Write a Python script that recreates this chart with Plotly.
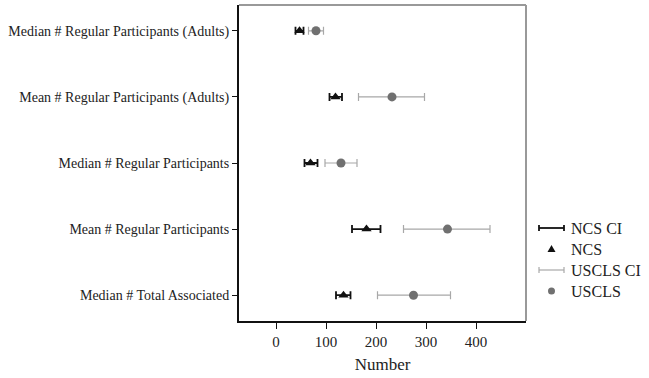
import plotly.graph_objects as go

# Measures, listed top to bottom
measures = [
    "Median # Regular Participants (Adults)",
    "Mean # Regular Participants (Adults)",
    "Median # Regular Participants",
    "Mean # Regular Participants",
    "Median # Total Associated",
]

# NCS estimates with confidence intervals
ncs_est = [47, 119, 69, 181, 135]
ncs_lo = [39, 107, 57, 152, 120]
ncs_hi = [55, 132, 83, 209, 149]

# USCLS estimates with confidence intervals
uscls_est = [80, 232, 130, 343, 275]
uscls_lo = [65, 165, 98, 255, 203]
uscls_hi = [95, 297, 162, 428, 349]

x_ticks = [0, 100, 200, 300, 400]

FONT = "Liberation Serif, Times New Roman, serif"
BLACK = "#111111"
TEXT = "#222222"
CI_GREY = "#a8a8a8"
DOT_GREY = "#707070"

fig = go.Figure()


def ci_trace(est, lo, hi, color, thick):
    return go.Scatter(
        x=est, y=measures, mode="markers",
        marker=dict(size=1, color="rgba(0,0,0,0)"),
        error_x=dict(type="data", symmetric=False,
                     array=[h - e for h, e in zip(hi, est)],
                     arrayminus=[e - l for e, l in zip(est, lo)],
                     color=color, thickness=thick, width=4),
        showlegend=False, hoverinfo="skip",
    )


fig.add_trace(ci_trace(uscls_est, uscls_lo, uscls_hi, CI_GREY, 1.2))
fig.add_trace(ci_trace(ncs_est, ncs_lo, ncs_hi, BLACK, 1.8))
fig.add_trace(go.Scatter(x=uscls_est, y=measures, mode="markers", name="USCLS",
                         marker=dict(symbol="circle", size=9, color=DOT_GREY),
                         showlegend=False))
fig.add_trace(go.Scatter(x=ncs_est, y=measures, mode="markers", name="NCS",
                         marker=dict(symbol="triangle-up", size=9, color=BLACK),
                         showlegend=False))

# Legend drawn in paper coordinates
L, R, T, B = 239, 526, 5, 321
W, H = R - L, B - T


def px(x):
    return (x - L) / W


def py(y):
    return (B - y) / H


shapes = []
annotations = []
legend_rows = [
    ("NCS CI", "ci", BLACK, 1.8, 228),
    ("NCS", "tri", BLACK, 0, 249),
    ("USCLS CI", "ci", CI_GREY, 1.2, 270),
    ("USCLS", "dot", DOT_GREY, 0, 291),
]
for label, kind, color, thick, yy in legend_rows:
    if kind == "ci":
        shapes.append(dict(type="line", xref="paper", yref="paper",
                           x0=px(539), x1=px(564), y0=py(yy), y1=py(yy),
                           line=dict(color=color, width=thick)))
        for xx in (539, 564):
            shapes.append(dict(type="line", xref="paper", yref="paper",
                               x0=px(xx), x1=px(xx), y0=py(yy - 3), y1=py(yy + 3),
                               line=dict(color=color, width=thick)))
    elif kind == "tri":
        shapes.append(dict(type="path", xref="paper", yref="paper",
                           xsizemode="pixel", ysizemode="pixel",
                           xanchor=px(551.5), yanchor=py(yy),
                           path="M -4 -3 L 4 -3 L 0 4 Z",
                           fillcolor=color, line=dict(width=0)))
    else:
        shapes.append(dict(type="circle", xref="paper", yref="paper",
                           xsizemode="pixel", ysizemode="pixel",
                           xanchor=px(551.5), yanchor=py(yy),
                           x0=-3.5, x1=3.5, y0=-3.5, y1=3.5,
                           fillcolor=color, line=dict(width=0)))
    annotations.append(dict(text=label, xref="paper", yref="paper",
                            x=px(569), y=py(yy), xanchor="left", yanchor="middle",
                            showarrow=False, font=dict(family=FONT, size=16, color=TEXT)))

# Grey top and right frame edges
shapes.append(dict(type="line", xref="paper", yref="paper", x0=0, x1=1, y0=1, y1=1,
                   line=dict(color="#999999", width=2)))
shapes.append(dict(type="line", xref="paper", yref="paper", x0=1, x1=1, y0=0, y1=1,
                   line=dict(color="#999999", width=2)))

fig.update_layout(
    width=649, height=378,
    margin=dict(l=L, r=649 - R, t=T, b=378 - B),
    paper_bgcolor="white", plot_bgcolor="white",
    font=dict(family=FONT, color=TEXT),
    shapes=shapes, annotations=annotations,
    showlegend=False,
    xaxis=dict(range=[-74, 500], tickvals=x_ticks, ticks="outside", ticklen=6,
               tickcolor=BLACK, showgrid=False, zeroline=False,
               showline=True, linecolor=BLACK, linewidth=1.5,
               tickfont=dict(size=15, family=FONT),
               title=dict(text="Number", font=dict(size=17, family=FONT), standoff=9)),
    yaxis=dict(type="category", categoryorder="array",
               categoryarray=measures[::-1], range=[-0.39, 4.39],
               ticks="outside", ticklen=5, tickcolor=BLACK,
               showgrid=False, zeroline=False,
               showline=True, linecolor=BLACK, linewidth=2,
               tickfont=dict(size=14, family=FONT)),
)

fig.write_html("out.html")
